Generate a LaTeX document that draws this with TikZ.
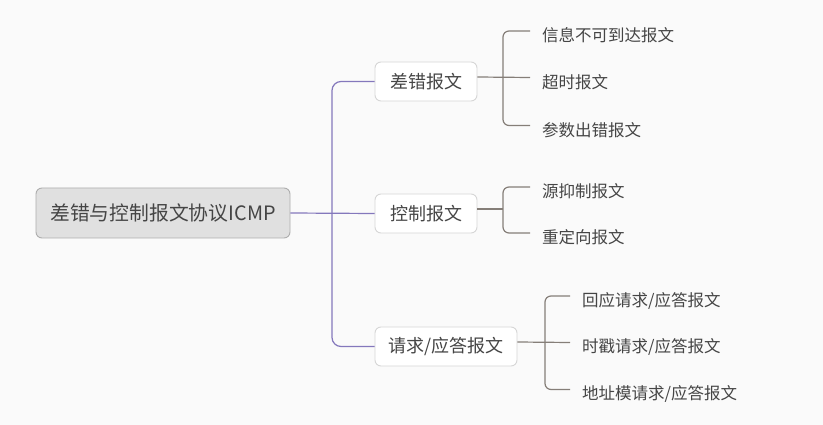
\documentclass[tikz,border=0pt]{standalone}
\usepackage{fontspec}
\setmainfont{Noto Sans CJK SC}
\usetikzlibrary{positioning}
\definecolor{bgcol}{HTML}{FAFAFA}
\definecolor{txtcol}{HTML}{454545}
\definecolor{trunkcol}{HTML}{8478BC}
\definecolor{twigcol}{HTML}{857E78}
\tikzset{
  rootbox/.style={draw=black!32, fill=black!12, rounded corners=6pt, line width=0.9pt,
    minimum width=254pt, minimum height=50pt, text=txtcol, font=\fontsize{19.8}{22}\selectfont},
  topicbox/.style={draw=black!16, fill=white, rounded corners=6pt, line width=0.9pt,
    minimum height=39pt, text=txtcol, font=\fontsize{18}{20}\selectfont},
  leaf/.style={anchor=west, inner xsep=12pt, inner ysep=0pt, text=txtcol, font=\fontsize{16.5}{18}\selectfont},
  trunk/.style={draw=trunkcol, line width=1.2pt},
  twig/.style={draw=twigcol, line width=1.2pt}
}
\begin{document}
\begin{tikzpicture}[x=1pt,y=1pt]
% page
\fill[bgcol] (0,0) rectangle (823,-425);
\useasboundingbox (0,0) rectangle (823,-425);

% root
\node[rootbox] (root) at (163,-213) {差错与控制报文协议ICMP};

% topics
\node[topicbox, minimum width=102pt] (err) at (426,-81.5) {差错报文};
\node[topicbox, minimum width=102pt] (ctl) at (426,-213.5) {控制报文};
\node[topicbox, minimum width=142pt] (req) at (446,-346.5) {请求/应答报文};

% leaves
\node[leaf] (e1) at (530,-35.5) {信息不可到达报文};
\node[leaf] (e2) at (530,-82) {超时报文};
\node[leaf] (e3) at (530,-130) {参数出错报文};
\node[leaf] (c1) at (530,-191.5) {源抑制报文};
\node[leaf] (c2) at (530,-237.5) {重定向报文};
\node[leaf] (r1) at (570,-300.5) {回应请求/应答报文};
\node[leaf] (r2) at (570,-347) {时戳请求/应答报文};
\node[leaf] (r3) at (570,-394) {地址模请求/应答报文};

% forks
\coordinate (trunkx) at (332,0);
\coordinate (errfork) at (503,-77);
\coordinate (ctlfork) at (503,-209);
\coordinate (reqfork) at (545,-342);

% root to topics
\draw[trunk] (root.east) -- (ctl.west);
\draw[trunk, rounded corners=9pt] (err.west) -| (trunkx |- req.west) -- (req.west);

% topics to leaves
\draw[twig] ([yshift=4.5pt]err.east) -- ([yshift=4.5pt]e2.west);
\draw[twig, rounded corners=6pt] ([yshift=4.5pt]e1.west) -| (errfork) |- ([yshift=4.5pt]e3.west);
\draw[twig] ([yshift=4.5pt]ctl.east) -- (ctlfork);
\draw[twig, rounded corners=6pt] ([yshift=4.5pt]c1.west) -| (ctlfork) |- ([yshift=4.5pt]c2.west);
\draw[twig] ([yshift=4.5pt]req.east) -- ([yshift=4.5pt]r2.west);
\draw[twig, rounded corners=6pt] ([yshift=4.5pt]r1.west) -| (reqfork) |- ([yshift=4.5pt]r3.west);
\end{tikzpicture}
\end{document}
